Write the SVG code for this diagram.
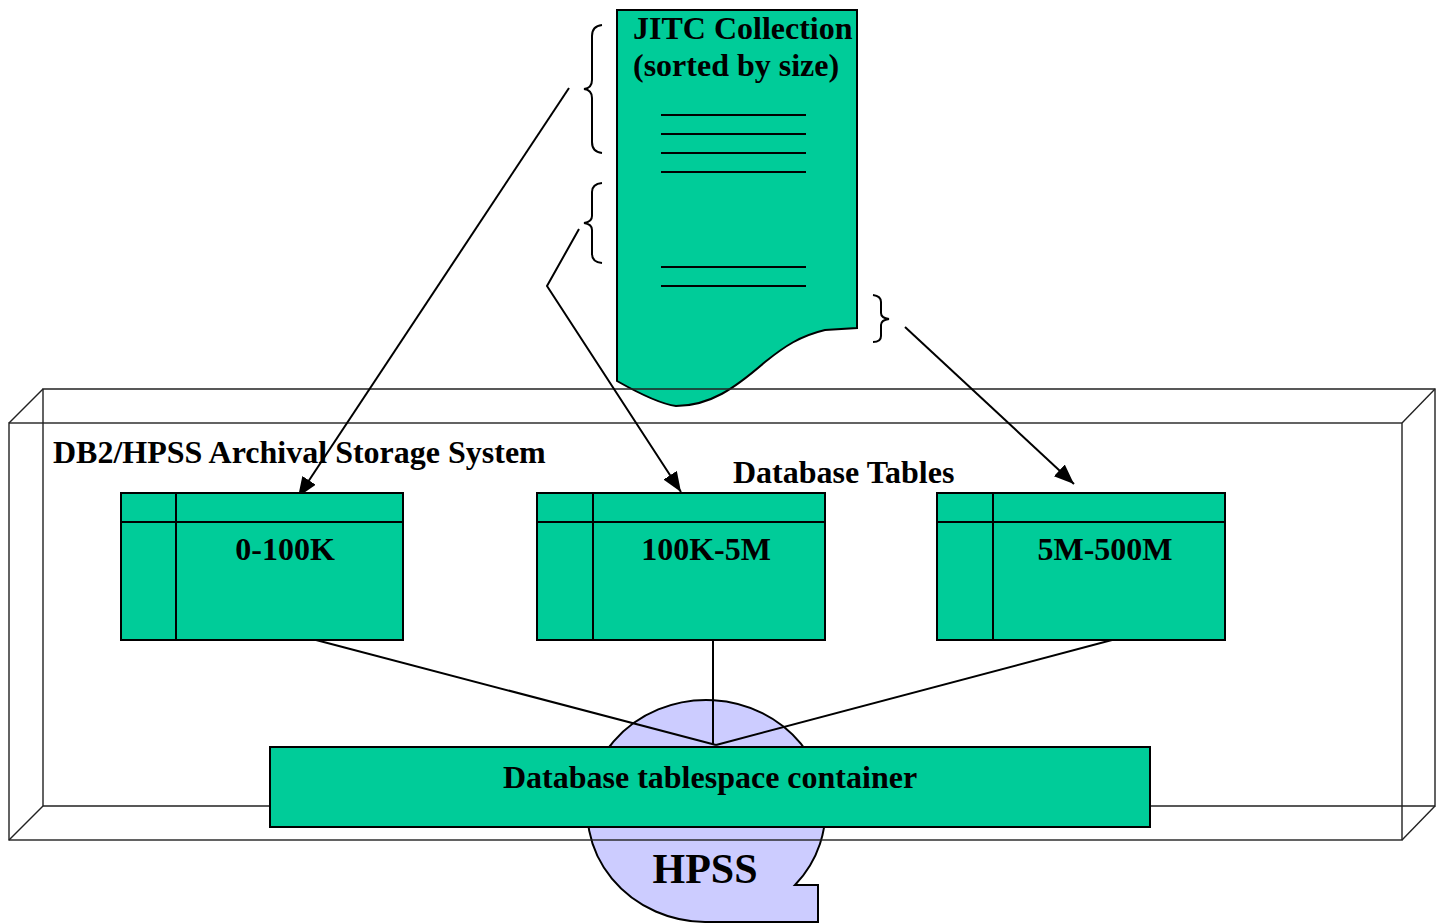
<svg xmlns="http://www.w3.org/2000/svg" width="1444" height="924" viewBox="0 0 1444 924">
<style>
.t{font-family:"Liberation Serif","Times New Roman",serif;font-weight:bold;fill:#000}
.g{fill:#00CC99;stroke:#000;stroke-width:2}
.ln{fill:none;stroke:#000;stroke-width:2}
.bx{fill:none;stroke:#222;stroke-width:1.4}
.br{fill:none;stroke:#000;stroke-width:2}
</style>
<defs>
<marker id="ah" markerUnits="userSpaceOnUse" markerWidth="22" markerHeight="18" refX="20" refY="8" orient="auto">
<path d="M0,0 L20,8 L0,16 z" fill="#000"/>
</marker>
</defs>
<rect width="1444" height="924" fill="#fff"/>
<g id="hpss">
<path d="M705,922 L818,922 L818,885 L795,885 A119,111 0 1 0 705,922 Z" fill="#CCCCFF" stroke="#000" stroke-width="2"/>
<text class="t" x="705" y="883" font-size="42" text-anchor="middle">HPSS</text>
</g>
<g id="jitc">
<path class="g" d="M617,10 L857,10 L857,328 L825,330 C800,336 785,346 765,362 C735,388 710,406 676,406 C660,404 640,394 617,381 Z"/>
<g class="ln">
<line x1="661" y1="115" x2="806" y2="115"/>
<line x1="661" y1="134" x2="806" y2="134"/>
<line x1="661" y1="153" x2="806" y2="153"/>
<line x1="661" y1="172" x2="806" y2="172"/>
<line x1="661" y1="267" x2="806" y2="267"/>
<line x1="661" y1="286" x2="806" y2="286"/>
</g>
<text class="t" x="633" y="39" font-size="32">JITC Collection</text>
<text class="t" x="633" y="76" font-size="32">(sorted by size)</text>
</g>
<g id="braces" class="br">
<path d="M602,25 Q592,26 592,36 L592,80 Q592,88 584,89 Q592,90 592,98 L592,142 Q592,152 602,153"/>
<path d="M602,183 Q592,184 592,192 L592,216 Q592,222 584,223 Q592,224 592,230 L592,254 Q592,262 602,263"/>
<path d="M873,295 Q881,296 881,302 L881,313 Q881,318 889,319 Q881,320 881,325 L881,336 Q881,342 873,342"/>
</g>
<g id="system">
<g class="bx">
<rect x="9" y="423" width="1393" height="417"/>
<path d="M43,806 L43,389 L1435,389 L1435,806 Z"/>
<line x1="9" y1="423" x2="43" y2="389"/>
<line x1="1402" y1="423" x2="1435" y2="389"/>
<line x1="9" y1="840" x2="43" y2="806"/>
<line x1="1402" y1="840" x2="1435" y2="806"/>
</g>
<text class="t" x="53" y="463" font-size="32">DB2/HPSS Archival Storage System</text>
<text class="t" x="733" y="483" font-size="32">Database Tables</text>
</g>
<g id="connectors">
<g class="ln" stroke-width="2">
<line x1="569" y1="88" x2="298" y2="497" marker-end="url(#ah)"/>
<polyline points="579,229 547,286 681,492" marker-end="url(#ah)"/>
<line x1="905" y1="327" x2="1074" y2="484" marker-end="url(#ah)"/>
<line x1="316" y1="640" x2="716" y2="745"/>
<line x1="713" y1="640" x2="713" y2="745"/>
<line x1="1112" y1="640" x2="716" y2="745"/>
</g>
</g>
<g id="t1">
<rect class="g" x="121" y="493" width="282" height="147"/>
<line class="ln" x1="121" y1="522" x2="403" y2="522"/>
<line class="ln" x1="176" y1="493" x2="176" y2="640"/>
<text class="t" x="285" y="560" font-size="32" text-anchor="middle">0-100K</text>
</g>
<g id="t2">
<rect class="g" x="537" y="493" width="288" height="147"/>
<line class="ln" x1="537" y1="522" x2="825" y2="522"/>
<line class="ln" x1="593" y1="493" x2="593" y2="640"/>
<text class="t" x="706" y="560" font-size="32" text-anchor="middle">100K-5M</text>
</g>
<g id="t3">
<rect class="g" x="937" y="493" width="288" height="147"/>
<line class="ln" x1="937" y1="522" x2="1225" y2="522"/>
<line class="ln" x1="993" y1="493" x2="993" y2="640"/>
<text class="t" x="1105" y="560" font-size="32" text-anchor="middle">5M-500M</text>
</g>
<g id="container">
<rect class="g" x="270" y="747" width="880" height="80"/>
<text class="t" x="710" y="788" font-size="32" text-anchor="middle">Database tablespace container</text>
</g>
</svg>
